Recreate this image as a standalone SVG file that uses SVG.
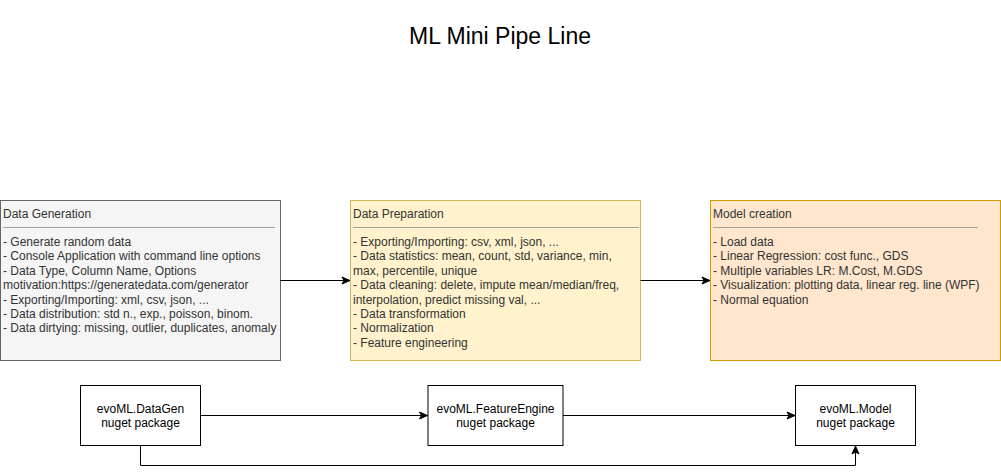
<svg xmlns="http://www.w3.org/2000/svg" width="1001" height="474" viewBox="0 0 1001 474">
<style>
text{font-family:"Liberation Sans",Arial,sans-serif;font-size:12px;fill:#333333}
.t{fill:#000000}
.title{font-size:23px;fill:#000000}
.sep{stroke:#a0a0a0;stroke-width:1}
.edge{fill:none;stroke:#000000;stroke-width:1}
.pkg{fill:#ffffff;stroke:#000000;stroke-width:1}
</style>
<defs>
<marker id="arr" markerUnits="userSpaceOnUse" markerWidth="10" markerHeight="10" viewBox="0 0 10 10" refX="9" refY="5" orient="auto">
<path d="M1,1.5 L9,5 L1,8.5 L3,5 Z" fill="#000000" stroke="#000000" stroke-width="1"/>
</marker>
</defs>
<rect width="1001" height="474" fill="#ffffff"/>
<g id="title"><text class="title" x="500" y="44" text-anchor="middle">ML Mini Pipe Line</text></g>

<g id="data-generation">
<rect x="0.5" y="200.5" width="280" height="160" fill="#f5f5f5" stroke="#666666"/>
<text x="3" y="217.5">Data Generation</text>
<line class="sep" x1="3" y1="227.5" x2="275" y2="227.5"/>
<text x="3" y="246">- Generate random data</text>
<text x="3" y="260.4">- Console Application with command line options</text>
<text x="3" y="274.8">- Data Type, Column Name, Options</text>
<text x="3" y="289.2">motivation:https://generatedata.com/generator</text>
<text x="3" y="303.6">- Exporting/Importing: xml, csv, json, ...</text>
<text x="3" y="318">- Data distribution: std n., exp., poisson, binom.</text>
<text x="3" y="332.4">- Data dirtying: missing, outlier, duplicates, anomaly</text>
</g>

<g id="data-preparation">
<rect x="350.5" y="200.5" width="290" height="160" fill="#fff2cc" stroke="#d6b656"/>
<text x="353" y="217.5">Data Preparation</text>
<line class="sep" x1="353" y1="227.5" x2="639" y2="227.5"/>
<text x="353" y="246">- Exporting/Importing: csv, xml, json, ...</text>
<text x="353" y="260.4">- Data statistics: mean, count, std, variance, min,</text>
<text x="353" y="274.8">max, percentile, unique</text>
<text x="353" y="289.2">- Data cleaning: delete, impute mean/median/freq,</text>
<text x="353" y="303.6">interpolation, predict missing val, ...</text>
<text x="353" y="318">- Data transformation</text>
<text x="353" y="332.4">- Normalization</text>
<text x="353" y="346.8">- Feature engineering</text>
</g>

<g id="model-creation">
<rect x="710.5" y="200.5" width="290" height="160" fill="#ffe6cc" stroke="#d79b00"/>
<text x="713" y="217.5">Model creation</text>
<line class="sep" x1="713" y1="227.5" x2="978" y2="227.5"/>
<text x="713" y="246">- Load data</text>
<text x="713" y="260.4">- Linear Regression: cost func., GDS</text>
<text x="713" y="274.8">- Multiple variables LR: M.Cost, M.GDS</text>
<text x="713" y="289.2">- Visualization: plotting data, linear reg. line (WPF)</text>
<text x="713" y="303.6">- Normal equation</text>
</g>

<g id="pkg-datagen">
<rect class="pkg" x="80.5" y="385.5" width="120" height="60"/>
<text class="t" x="140.5" y="413" text-anchor="middle">evoML.DataGen</text>
<text class="t" x="140.5" y="427.4" text-anchor="middle">nuget package</text>
</g>

<g id="pkg-featureengine">
<rect class="pkg" x="428" y="385.5" width="135" height="60" stroke="#555555" stroke-width="1.5"/>
<text class="t" x="495.5" y="413" text-anchor="middle">evoML.FeatureEngine</text>
<text class="t" x="495.5" y="427.4" text-anchor="middle">nuget package</text>
</g>

<g id="pkg-model">
<rect class="pkg" x="795.5" y="385.5" width="120" height="60"/>
<text class="t" x="855.5" y="413" text-anchor="middle">evoML.Model</text>
<text class="t" x="855.5" y="427.4" text-anchor="middle">nuget package</text>
</g>

<g id="connectors">
<path class="edge" d="M280.5,280.5 H350" marker-end="url(#arr)"/>
<path class="edge" d="M640.5,280.5 H710" marker-end="url(#arr)"/>
<path class="edge" d="M200.5,415.5 H427.5" marker-end="url(#arr)"/>
<path class="edge" d="M563,415.5 H795" marker-end="url(#arr)"/>
<path class="edge" d="M140.5,445.5 V465.5 H855.5 V446" marker-end="url(#arr)"/>
</g>
</svg>
